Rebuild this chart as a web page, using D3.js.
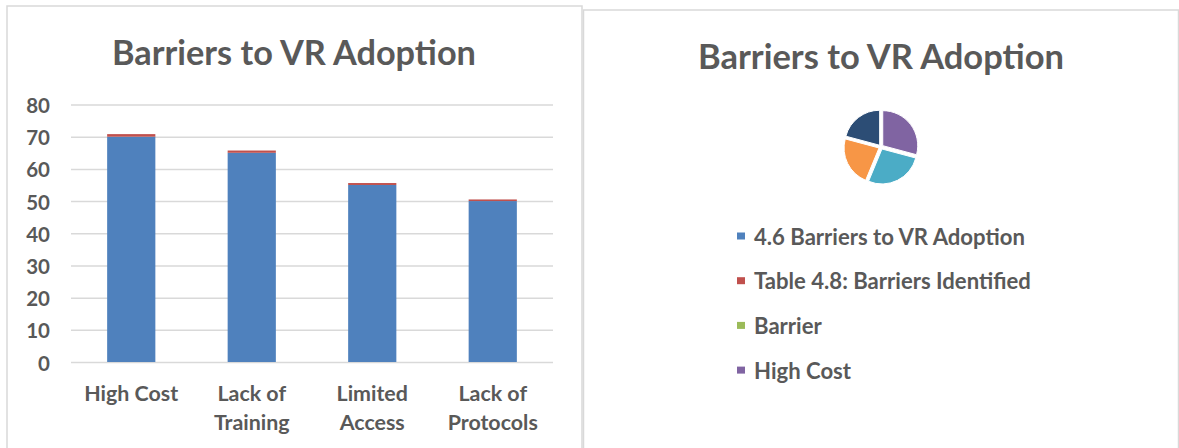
<!DOCTYPE html>
<html>
<head>
<meta charset="utf-8">
<script src="https://cdn.jsdelivr.net/npm/d3@7"></script>
<style>
  body { margin: 0; background: #fff; }
  svg text { font-family: Lato, "Open Sans", sans-serif; font-weight: bold; fill: #595959; }
</style>
</head>
<body>
<svg id="chart" width="1179" height="448"></svg>
<script>
// data
const categories = ["High Cost", "Lack of Training", "Limited Access", "Lack of Protocols"];
const categoryLines = [["High Cost"], ["Lack of", "Training"], ["Limited", "Access"], ["Lack of", "Protocols"]];
const seriesNames = ["4.6 Barriers to VR Adoption", "Table 4.8: Barriers Identified"];
const adoptionValues = [70, 65, 55, 50];
const identifiedValues = [0.8, 0.7, 0.6, 0.5];
const yTicks = [0, 10, 20, 30, 40, 50, 60, 70, 80];

const pieLabels = ["4.6 Barriers to VR Adoption", "Table 4.8: Barriers Identified", "Barrier", "High Cost",
                   "Lack of Training", "Limited Access", "Lack of Protocols"];
const pieValues = [0, 0, 0, 70, 65, 55, 50];
const legendShown = 4;

const palette = ["#4F81BD", "#C0504D", "#9BBB59", "#8064A2", "#4BACC6", "#F79646", "#2C4D75"];
const titleText = "Barriers to VR Adoption";

const svg = d3.select("#chart");

// fit a text's font size so it is about `w` px wide
function fitText(sel, w) {
  sel.style("font-size", "100px");
  const len = sel.node().getComputedTextLength();
  sel.style("font-size", (100 * w / len).toFixed(2) + "px");
  return 100 * w / len;
}

// panel frames
svg.append("rect").attr("x", 7).attr("y", 6).attr("width", 575).attr("height", 460)
  .attr("fill", "none").attr("stroke", "#d9d9d9").attr("stroke-width", 1.5);
svg.append("rect").attr("x", 583.5).attr("y", 10).attr("width", 595).attr("height", 460)
  .attr("fill", "none").attr("stroke", "#d9d9d9").attr("stroke-width", 1.5);

// ---- left: stacked bars ----
const plot = { left: 71, right: 553, top: 104.5, bottom: 362 };

const x = d3.scaleBand().domain(categories).range([plot.left, plot.right]).paddingInner(0.6).paddingOuter(0.3);
const y = d3.scaleLinear().domain([0, 80]).range([plot.bottom, plot.top]);

const leftTitle = svg.append("text").attr("x", 294).attr("y", 51)
  .attr("text-anchor", "middle").attr("dominant-baseline", "central").text(titleText);
fitText(leftTitle, 364);

const yAxis = svg.append("g").attr("transform", `translate(${plot.left},0)`)
  .call(d3.axisLeft(y).tickValues(yTicks).tickSize(-(plot.right - plot.left)).tickPadding(21));
yAxis.select(".domain").remove();
yAxis.selectAll(".tick line").attr("stroke", "#d9d9d9").attr("stroke-width", 1.5);
yAxis.selectAll(".tick text").attr("dominant-baseline", "central").attr("dy", null)
  .style("font-size", "20.5px");

const rows = categories.map((c, i) => ({ cat: c, s0: adoptionValues[i], s1: identifiedValues[i] }));
const stack = d3.stack().keys(["s0", "s1"])(rows);

svg.append("g").selectAll("g").data(stack).join("g")
  .attr("fill", (d, i) => palette[i])
  .selectAll("rect").data(d => d).join("rect")
  .attr("x", d => x(d.data.cat))
  .attr("width", x.bandwidth())
  .attr("y", d => y(d[1]))
  .attr("height", d => y(d[0]) - y(d[1]));

const xLab = svg.append("g").selectAll("text").data(categories).join("text")
  .attr("text-anchor", "middle")
  .attr("x", d => x(d) + x.bandwidth() / 2)
  .attr("y", 393);
xLab.each(function (d, i) {
  d3.select(this).selectAll("tspan").data(categoryLines[i]).join("tspan")
    .attr("x", x(d) + x.bandwidth() / 2)
    .attr("dy", (t, j) => j === 0 ? 0 : 29)
    .attr("dominant-baseline", "central")
    .text(t => t);
});
const xfs = fitText(d3.select(xLab.nodes()[0]), 94);
xLab.style("font-size", xfs + "px");

// ---- right: pie ----
const rightTitle = svg.append("text").attr("x", 881).attr("y", 55)
  .attr("text-anchor", "middle").attr("dominant-baseline", "central").text(titleText);
fitText(rightTitle, 366);

const pieData = pieLabels.map((l, i) => ({ label: l, value: pieValues[i], color: palette[i] }));
const pie = d3.pie().sort(null).value(d => d.value)(pieData);
const radius = 35;
const arc = d3.arc().innerRadius(0).outerRadius(radius);

const pieG = svg.append("g").attr("transform", "translate(881,147)");
pieG.selectAll("path").data(pie.filter(d => d.value > 0)).join("path")
  .attr("d", arc)
  .attr("fill", d => d.data.color)
  .attr("stroke", "#fff").attr("stroke-width", 1)
  .attr("transform", d => {
    const a = (d.startAngle + d.endAngle) / 2;
    return `translate(${Math.sin(a) * 2.2},${-Math.cos(a) * 2.2})`;
  });

const legend = svg.append("g").selectAll("g").data(pieData.slice(0, legendShown)).join("g")
  .attr("transform", (d, i) => `translate(737,${236 + i * 44.7})`);
legend.append("rect").attr("x", 0).attr("y", -3.5).attr("width", 8).attr("height", 7)
  .attr("fill", d => d.color);
const legText = legend.append("text").attr("x", 17).attr("y", 0)
  .attr("dominant-baseline", "central").text(d => d.label);
const fs = fitText(d3.select(legText.nodes()[0]), 271);
legText.style("font-size", fs + "px");
</script>
</body>
</html>
